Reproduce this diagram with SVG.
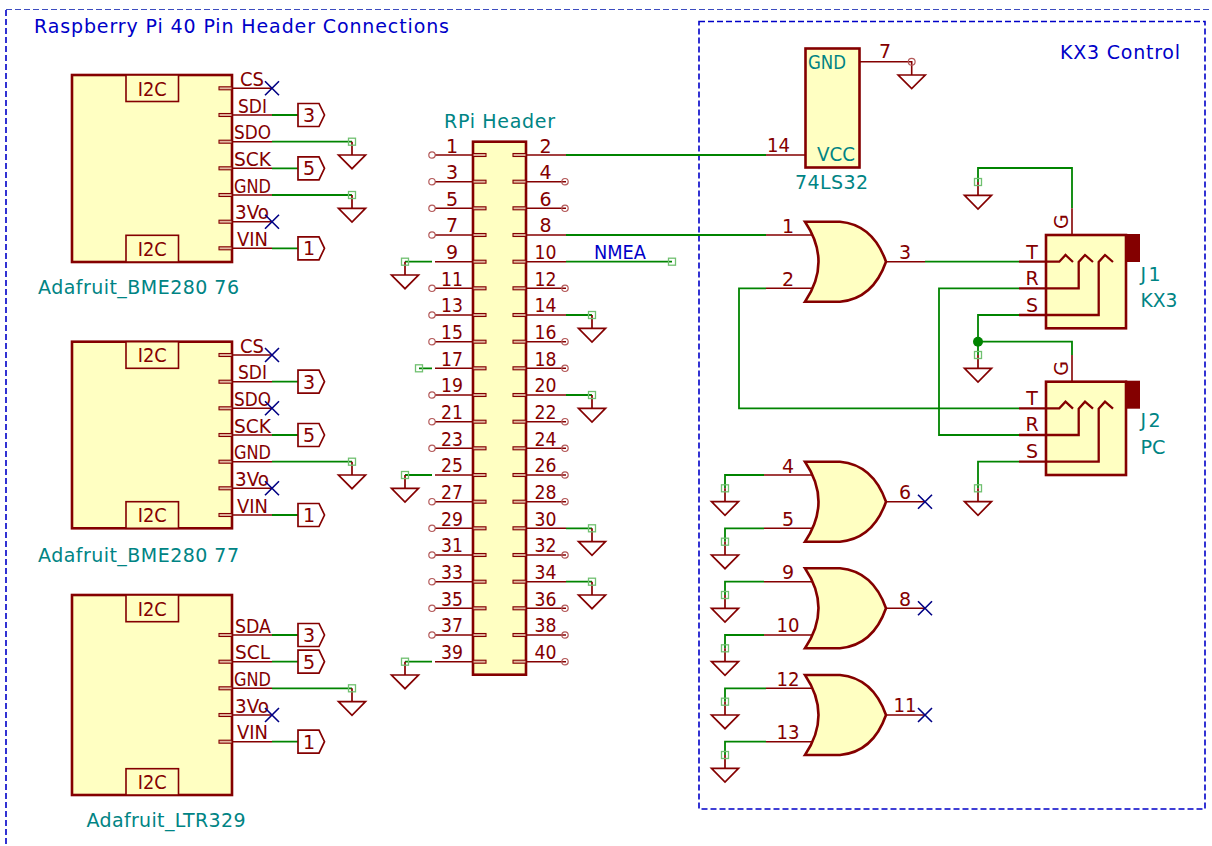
<svg xmlns="http://www.w3.org/2000/svg" width="1212" height="846" viewBox="0 0 1212 846">
<style>
text{font-family:"DejaVu Sans",sans-serif;font-size:19px}
.p{fill:#840000;text-anchor:middle}
.t{fill:#008484}
.b{fill:#0000c8}
.body{fill:#ffffc2;stroke:#840000;stroke-width:2.6}
.box{fill:#ffffc2;stroke:#840000;stroke-width:1.6}
.ln{fill:none;stroke:#840000;stroke-width:1.6}
.th{fill:none;stroke:#840000;stroke-width:2.3}
.w{fill:none;stroke:#008400;stroke-width:1.8}
.sym{fill:none;stroke:#840000;stroke-width:1.7}
.stub{fill:#e0b8a0;stroke:#840000;stroke-width:1.1}
.nd{fill:none;stroke:#70c070;stroke-width:1.3}
.cr{fill:none;stroke:#b45a5a;stroke-width:1.2}
.nc{fill:none;stroke:#000084;stroke-width:1.6}
.fr{fill:none;stroke:#0000c8;stroke-width:1.6;stroke-dasharray:6 3}
</style>
<defs>
<g id="g"><path class="sym" d="M0 0V13.3M-13.5 13.3H13.5L0 27Z"/><rect class="nd" x="-3.5" y="-3.5" width="7" height="7"/></g>
<g id="mp"><path class="ln" d="M232 0H272"/><rect class="stub" x="219" y="-1.5" width="13" height="3"/></g>
<g id="hlp"><path class="ln" d="M435 0H473"/><rect class="stub" x="473" y="-1.5" width="13" height="3"/></g>
<g id="hrp"><path class="ln" d="M526 0H566"/><rect class="stub" x="513" y="-1.5" width="13" height="3"/></g>
<g id="hlc"><use href="#hlp"/><circle class="cr" cx="432" r="3.2"/></g>
<g id="hrc"><use href="#hrp"/><circle class="cr" cx="565" r="3.2"/></g>
<path id="x" class="nc" d="M-7-7L7 7M-7 7L7-7"/>
<path id="lab" class="sym" d="M298-11.5H319L324.5 0L319 11.5H298Z"/>
<path id="gate" class="body" d="M0 0H35Q68 3 81 40Q68 77 35 80H0Q27 40 0 0Z"/>
<g id="jack">
<rect class="body" x="1046" y="0" width="80" height="93.3"/>
<rect x="1125" y="-1" width="15" height="28" fill="#840000"/>
<path class="th" d="M1019 26.7H1059.3L1065.5 20L1073 27M1019 53.3H1078.7V27L1085 20L1093 27M1019 80H1098.7V27L1105 20L1113 27"/>
<path class="ln" d="M1072 0V-26.7"/>
<text class="p" x="1032" y="23.5">T</text>
<text class="p" x="1032" y="49.5">R</text>
<text class="p" x="1032" y="76.5">S</text>
<text class="p" transform="translate(1068 -13.3) rotate(-90)">G</text>
</g>
</defs>

<g id="frames">
<path d="M6 9.5H1212" fill="none" stroke="#3c4cc0" stroke-width="1" stroke-dasharray="6 3"/>
<path class="fr" d="M6 10V846"/>
<rect class="fr" x="699" y="21.5" width="506" height="787.5"/>
<text class="b" x="34" y="32.5" textLength="415" lengthAdjust="spacing">Raspberry Pi 40 Pin Header Connections</text>
<text class="b" x="1060" y="59" textLength="120" lengthAdjust="spacing">KX3 Control</text>
</g>

<g id="connectors">
<path class="w" d="M272 115H298M272 168.3H298M272 248.3H298M272 381.7H298M272 435H298M272 515H298M272 635H298M272 661.7H298M272 741.7H298"/>
<path class="w" d="M272 141.7H352M272 195H352M272 461.7H352M272 688.3H352"/>
<path class="w" d="M432 261.7H405M432 475H405M432 661.7H405M432 368.3H419"/>
<path class="w" d="M566 155H766M566 235H766M566 261.7H672M566 315H592M566 395H592M566 528.3H592M566 581.7H592"/>
<path class="w" d="M925 261.7H1019M1019 288.3H939V435H1019M1019 315H978V355M978 341.7H1072V355M1019 408.3H739V288.3H766M1019 461.7H978V488.3M1072 208.3V168H978V182"/>
<path class="w" d="M764 475H725V488.3M764 528.3H725V541.7M764 581.7H725V595M764 635H725V648.3M766 688.3H725V701.7M766 741.7H725V755"/>
<circle cx="978" cy="341.7" r="5" fill="#008400"/>
<path class="ln" d="M766 155H805M859 61.7H911.7V75"/>
</g>

<g id="power">
<use href="#g" x="352" y="141.7"/><use href="#g" x="352" y="195"/><use href="#g" x="352" y="461.7"/><use href="#g" x="352" y="688.3"/>
<use href="#g" x="405" y="261.7"/><use href="#g" x="405" y="475"/><use href="#g" x="405" y="661.7"/>
<use href="#g" x="592" y="315"/><use href="#g" x="592" y="395"/><use href="#g" x="592" y="528.3"/><use href="#g" x="592" y="581.7"/>
<use href="#g" x="978" y="182"/><use href="#g" x="978" y="355"/><use href="#g" x="978" y="488.3"/>
<use href="#g" x="725" y="488.3"/><use href="#g" x="725" y="541.7"/><use href="#g" x="725" y="595"/><use href="#g" x="725" y="648.3"/><use href="#g" x="725" y="701.7"/><use href="#g" x="725" y="755"/>
<circle class="cr" cx="911.7" cy="61.7" r="3.4"/><path class="sym" d="M898.2 75H925.2L911.7 88.5Z"/>
<rect class="nd" x="415.5" y="364.8" width="7" height="7"/>
<rect class="nd" x="668.5" y="258.2" width="7" height="7"/>
<text class="b" x="620" y="259" text-anchor="middle" textLength="52" lengthAdjust="spacingAndGlyphs">NMEA</text>
</g>

<g id="bme280-76">
<rect class="body" x="72" y="75" width="160" height="187"/>
<rect class="box" x="126" y="75" width="52.5" height="26.5"/><rect class="box" x="126" y="235.3" width="52.5" height="26.7"/>
<text class="p" x="152.3" y="96" textLength="29" lengthAdjust="spacingAndGlyphs">I2C</text><text class="p" x="152.3" y="255.5" textLength="29" lengthAdjust="spacingAndGlyphs">I2C</text>
<use href="#mp" y="88.3"/><use href="#mp" y="115"/><use href="#mp" y="141.7"/><use href="#mp" y="168.3"/><use href="#mp" y="195"/><use href="#mp" y="221.7"/><use href="#mp" y="248.3"/>
<text class="p" x="252" y="85.5" textLength="24" lengthAdjust="spacingAndGlyphs">CS</text><text class="p" x="252.5" y="112.5" textLength="29" lengthAdjust="spacingAndGlyphs">SDI</text><text class="p" x="252.5" y="139" textLength="37" lengthAdjust="spacingAndGlyphs">SDO</text><text class="p" x="252.5" y="165.8" textLength="37" lengthAdjust="spacingAndGlyphs">SCK</text><text class="p" x="252.5" y="192.5" textLength="37" lengthAdjust="spacingAndGlyphs">GND</text><text class="p" x="252" y="219" textLength="34" lengthAdjust="spacingAndGlyphs">3Vo</text><text class="p" x="252.5" y="245.8" textLength="31" lengthAdjust="spacingAndGlyphs">VIN</text>
<use href="#x" x="272" y="88.3"/><use href="#x" x="272" y="221.7"/>
<use href="#lab" y="115"/><use href="#lab" y="168.3"/><use href="#lab" y="248.3"/>
<text class="p" x="309" y="122">3</text><text class="p" x="309" y="175.3">5</text><text class="p" x="309" y="255.3">1</text>
<text class="t" x="38" y="294" textLength="201" lengthAdjust="spacing">Adafruit_BME280 76</text>
</g>

<g id="bme280-77">
<rect class="body" x="72" y="341.7" width="160" height="186.6"/>
<rect class="box" x="126" y="341.7" width="52.5" height="26.6"/><rect class="box" x="126" y="501.7" width="52.5" height="26.6"/>
<text class="p" x="152.3" y="362.2" textLength="29" lengthAdjust="spacingAndGlyphs">I2C</text><text class="p" x="152.3" y="522.2" textLength="29" lengthAdjust="spacingAndGlyphs">I2C</text>
<use href="#mp" y="355"/><use href="#mp" y="381.7"/><use href="#mp" y="408.3"/><use href="#mp" y="435"/><use href="#mp" y="461.7"/><use href="#mp" y="488.3"/><use href="#mp" y="515"/>
<text class="p" x="252" y="352.5" textLength="24" lengthAdjust="spacingAndGlyphs">CS</text><text class="p" x="252.5" y="379" textLength="29" lengthAdjust="spacingAndGlyphs">SDI</text><text class="p" x="252.5" y="405.5" textLength="37" lengthAdjust="spacingAndGlyphs">SDO</text><text class="p" x="252.5" y="432.5" textLength="37" lengthAdjust="spacingAndGlyphs">SCK</text><text class="p" x="252.5" y="459" textLength="37" lengthAdjust="spacingAndGlyphs">GND</text><text class="p" x="252" y="485.5" textLength="34" lengthAdjust="spacingAndGlyphs">3Vo</text><text class="p" x="252.5" y="512.5" textLength="31" lengthAdjust="spacingAndGlyphs">VIN</text>
<use href="#x" x="272" y="355"/><use href="#x" x="272" y="408.3"/><use href="#x" x="272" y="488.3"/>
<use href="#lab" y="381.7"/><use href="#lab" y="435"/><use href="#lab" y="515"/>
<text class="p" x="309" y="388.7">3</text><text class="p" x="309" y="442">5</text><text class="p" x="309" y="522">1</text>
<text class="t" x="38" y="562" textLength="201" lengthAdjust="spacing">Adafruit_BME280 77</text>
</g>

<g id="ltr329">
<rect class="body" x="72" y="595" width="160" height="200"/>
<rect class="box" x="126" y="595" width="52.5" height="26.7"/><rect class="box" x="126" y="768.7" width="52.5" height="26.3"/>
<text class="p" x="152.3" y="615.5" textLength="29" lengthAdjust="spacingAndGlyphs">I2C</text><text class="p" x="152.3" y="789" textLength="29" lengthAdjust="spacingAndGlyphs">I2C</text>
<use href="#mp" y="635"/><use href="#mp" y="661.7"/><use href="#mp" y="688.3"/><use href="#mp" y="715"/><use href="#mp" y="741.7"/>
<text class="p" x="253" y="632.5" textLength="36" lengthAdjust="spacingAndGlyphs">SDA</text><text class="p" x="252.5" y="659" textLength="35" lengthAdjust="spacingAndGlyphs">SCL</text><text class="p" x="252.5" y="685.5" textLength="37" lengthAdjust="spacingAndGlyphs">GND</text><text class="p" x="252" y="712.5" textLength="34" lengthAdjust="spacingAndGlyphs">3Vo</text><text class="p" x="252.5" y="739" textLength="31" lengthAdjust="spacingAndGlyphs">VIN</text>
<use href="#x" x="272" y="715"/>
<use href="#lab" y="635"/><use href="#lab" y="661.7"/><use href="#lab" y="741.7"/>
<text class="p" x="309" y="642">3</text><text class="p" x="309" y="668.7">5</text><text class="p" x="309" y="748.7">1</text>
<text class="t" x="86.5" y="827" textLength="159" lengthAdjust="spacing">Adafruit_LTR329</text>
</g>

<g id="rpi-header">
<rect class="body" x="473" y="141.7" width="53" height="533"/>
<text class="t" x="444" y="128" textLength="111" lengthAdjust="spacing">RPi Header</text>
<use href="#hlc" y="155"/><use href="#hlc" y="181.7"/><use href="#hlc" y="208.3"/><use href="#hlc" y="235"/><use href="#hlp" y="261.7"/><use href="#hlc" y="288.3"/><use href="#hlc" y="315"/><use href="#hlc" y="341.7"/><use href="#hlp" y="368.3"/><use href="#hlc" y="395"/><use href="#hlc" y="421.7"/><use href="#hlc" y="448.3"/><use href="#hlp" y="475"/><use href="#hlc" y="501.7"/><use href="#hlc" y="528.3"/><use href="#hlc" y="555"/><use href="#hlc" y="581.7"/><use href="#hlc" y="608.3"/><use href="#hlc" y="635"/><use href="#hlp" y="661.7"/>
<use href="#hrp" y="155"/><use href="#hrc" y="181.7"/><use href="#hrc" y="208.3"/><use href="#hrp" y="235"/><use href="#hrp" y="261.7"/><use href="#hrc" y="288.3"/><use href="#hrp" y="315"/><use href="#hrc" y="341.7"/><use href="#hrc" y="368.3"/><use href="#hrp" y="395"/><use href="#hrc" y="421.7"/><use href="#hrc" y="448.3"/><use href="#hrc" y="475"/><use href="#hrc" y="501.7"/><use href="#hrp" y="528.3"/><use href="#hrc" y="555"/><use href="#hrp" y="581.7"/><use href="#hrc" y="608.3"/><use href="#hrc" y="635"/><use href="#hrc" y="661.7"/>
<text class="p" x="452" y="152.5">1</text><text class="p" x="452" y="179">3</text><text class="p" x="452" y="205.5">5</text><text class="p" x="452" y="232">7</text><text class="p" x="452" y="259">9</text>
<text class="p" x="452" y="285.5" textLength="22" lengthAdjust="spacingAndGlyphs">11</text><text class="p" x="452" y="312" textLength="22" lengthAdjust="spacingAndGlyphs">13</text><text class="p" x="452" y="339" textLength="22" lengthAdjust="spacingAndGlyphs">15</text><text class="p" x="452" y="365.5" textLength="22" lengthAdjust="spacingAndGlyphs">17</text><text class="p" x="452" y="392" textLength="22" lengthAdjust="spacingAndGlyphs">19</text><text class="p" x="452" y="419" textLength="22" lengthAdjust="spacingAndGlyphs">21</text><text class="p" x="452" y="445.5" textLength="22" lengthAdjust="spacingAndGlyphs">23</text><text class="p" x="452" y="472" textLength="22" lengthAdjust="spacingAndGlyphs">25</text><text class="p" x="452" y="499" textLength="22" lengthAdjust="spacingAndGlyphs">27</text><text class="p" x="452" y="525.5" textLength="22" lengthAdjust="spacingAndGlyphs">29</text><text class="p" x="452" y="552" textLength="22" lengthAdjust="spacingAndGlyphs">31</text><text class="p" x="452" y="579" textLength="22" lengthAdjust="spacingAndGlyphs">33</text><text class="p" x="452" y="605.5" textLength="22" lengthAdjust="spacingAndGlyphs">35</text><text class="p" x="452" y="632" textLength="22" lengthAdjust="spacingAndGlyphs">37</text><text class="p" x="452" y="659" textLength="22" lengthAdjust="spacingAndGlyphs">39</text>
<text class="p" x="545.5" y="152.5">2</text><text class="p" x="545.5" y="179">4</text><text class="p" x="545.5" y="205.5">6</text><text class="p" x="545.5" y="232">8</text>
<text class="p" x="545.5" y="259" textLength="22" lengthAdjust="spacingAndGlyphs">10</text><text class="p" x="545.5" y="285.5" textLength="22" lengthAdjust="spacingAndGlyphs">12</text><text class="p" x="545.5" y="312" textLength="22" lengthAdjust="spacingAndGlyphs">14</text><text class="p" x="545.5" y="339" textLength="22" lengthAdjust="spacingAndGlyphs">16</text><text class="p" x="545.5" y="365.5" textLength="22" lengthAdjust="spacingAndGlyphs">18</text><text class="p" x="545.5" y="392" textLength="22" lengthAdjust="spacingAndGlyphs">20</text><text class="p" x="545.5" y="419" textLength="22" lengthAdjust="spacingAndGlyphs">22</text><text class="p" x="545.5" y="445.5" textLength="22" lengthAdjust="spacingAndGlyphs">24</text><text class="p" x="545.5" y="472" textLength="22" lengthAdjust="spacingAndGlyphs">26</text><text class="p" x="545.5" y="499" textLength="22" lengthAdjust="spacingAndGlyphs">28</text><text class="p" x="545.5" y="525.5" textLength="22" lengthAdjust="spacingAndGlyphs">30</text><text class="p" x="545.5" y="552" textLength="22" lengthAdjust="spacingAndGlyphs">32</text><text class="p" x="545.5" y="579" textLength="22" lengthAdjust="spacingAndGlyphs">34</text><text class="p" x="545.5" y="605.5" textLength="22" lengthAdjust="spacingAndGlyphs">36</text><text class="p" x="545.5" y="632" textLength="22" lengthAdjust="spacingAndGlyphs">38</text><text class="p" x="545.5" y="659" textLength="22" lengthAdjust="spacingAndGlyphs">40</text>
</g>

<g id="u-74ls32-power">
<rect class="body" x="805.5" y="48.5" width="54" height="119"/>
<text class="t" x="808" y="68.5" textLength="38" lengthAdjust="spacingAndGlyphs">GND</text>
<text class="t" x="817" y="161" textLength="38" lengthAdjust="spacingAndGlyphs">VCC</text>
<text class="t" x="795" y="188.5" textLength="73" lengthAdjust="spacing">74LS32</text>
<text class="p" x="885" y="58">7</text>
<text class="p" x="778.5" y="152" textLength="23" lengthAdjust="spacingAndGlyphs">14</text>
</g>

<g id="or-1">
<path class="ln" d="M766 235H813M766 288.3H813M886 261.7H925"/>
<use href="#gate" x="805" y="221.7"/>
<text class="p" x="788" y="232.5">1</text><text class="p" x="788" y="285.5">2</text><text class="p" x="905" y="258.5">3</text>
</g>
<g id="or-2">
<path class="ln" d="M764 475H813M764 528.3H813M886 501.7H925"/>
<use href="#gate" x="805" y="461.7"/>
<text class="p" x="788" y="472.5">4</text><text class="p" x="788" y="525.5">5</text><text class="p" x="905" y="499">6</text>
<use href="#x" x="925" y="501.7"/>
</g>
<g id="or-3">
<path class="ln" d="M764 581.7H813M764 635H813M886 608.3H925"/>
<use href="#gate" x="805" y="568.3"/>
<text class="p" x="788" y="579">9</text><text class="p" x="788" y="632" textLength="23" lengthAdjust="spacingAndGlyphs">10</text><text class="p" x="905" y="605.5">8</text>
<use href="#x" x="925" y="608.3"/>
</g>
<g id="or-4">
<path class="ln" d="M766 688.3H813M766 741.7H813M886 715H925"/>
<use href="#gate" x="805" y="675"/>
<text class="p" x="788" y="685.5" textLength="23" lengthAdjust="spacingAndGlyphs">12</text><text class="p" x="788" y="739" textLength="23" lengthAdjust="spacingAndGlyphs">13</text><text class="p" x="905" y="712" textLength="23" lengthAdjust="spacingAndGlyphs">11</text>
<use href="#x" x="925" y="715"/>
</g>

<g id="j1">
<use href="#jack" y="235"/>
<text class="t" x="1140.5" y="281" textLength="20" lengthAdjust="spacing">J1</text>
<text class="t" x="1140.5" y="307" textLength="37" lengthAdjust="spacingAndGlyphs">KX3</text>
</g>
<g id="j2">
<use href="#jack" y="381.7"/>
<text class="t" x="1140.5" y="427" textLength="20" lengthAdjust="spacing">J2</text>
<text class="t" x="1140.5" y="454" textLength="25" lengthAdjust="spacingAndGlyphs">PC</text>
</g>
</svg>
